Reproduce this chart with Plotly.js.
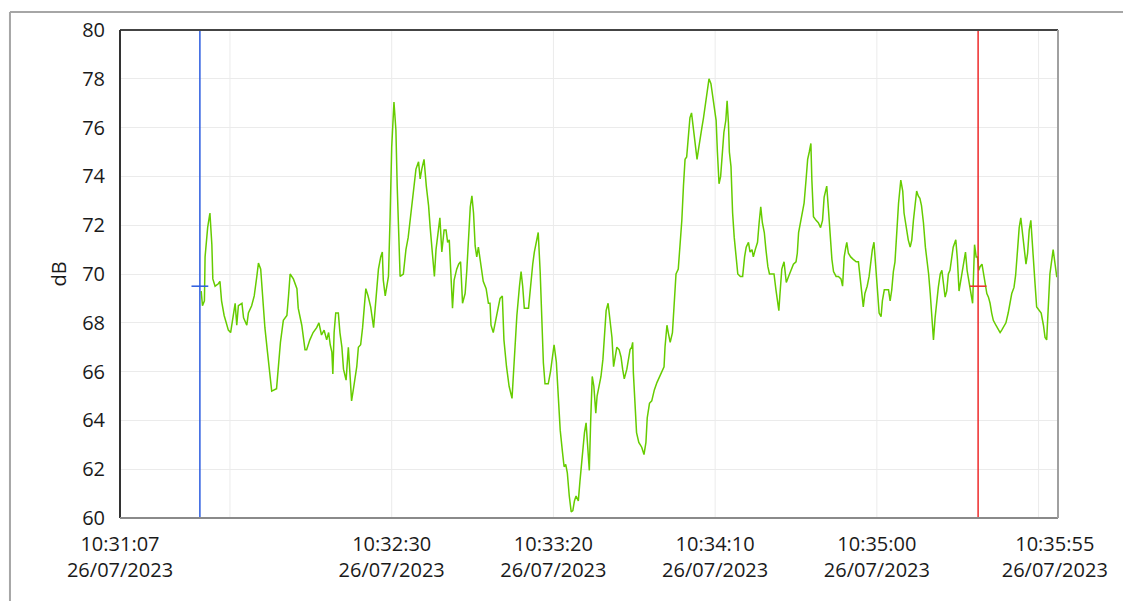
<!DOCTYPE html>
<html>
<head>
<meta charset="utf-8">
<script src="https://cdn.plot.ly/plotly-3.0.1.min.js"></script>
<style>html,body{margin:0;padding:0;background:#fff;}#chart{width:1123px;height:601px;}</style>
</head>
<body>
<div id="chart"></div>
<script>
// seconds after 10:31:06 on 26/07/2023
const seconds = [
25.1,25.5,26.1,26.3,27.1,27.8,28.4,28.7,29.4,30.4,30.9,31.4,32.2,33.5,34.2,35.0,35.6,36.1,36.6,37.7,38.2,39.2,39.7,40.7,41.5,42.3,42.8,43.5,44.1,44.8,45.6,46.4,46.9,48.4,48.9,49.6,50.5,51.6,52.1,52.6,53.6,54.7,55.1,56.2,57.2,57.7,58.7,59.7,60.8,61.5,62.3,63.1,63.9,64.5,65.0,65.5,65.8,66.2,66.7,67.5,
68.0,68.6,69.1,69.9,70.6,71.1,71.6,72.3,73.2,73.7,74.4,75.0,75.5,76.0,76.7,77.5,78.4,78.7,79.2,79.9,80.6,81.1,81.4,82.0,82.5,83.0,83.5,84.0,84.7,85.3,85.7,86.2,86.6,87.6,88.4,89.1,89.6,90.2,90.9,91.5,92.3,92.8,93.3,94.0,94.7,95.4,95.9,96.6,97.2,97.7,98.4,98.9,99.5,100.2,100.8,101.3,101.8,102.3,102.8,103.3,104.1,104.7,105.3,105.9,106.7,107.2,107.7,108.3,108.8,109.3,109.8,110.3,110.8,111.3,111.9,112.3,113.2,113.9,
114.4,114.7,115.4,116.5,117.5,118.2,118.7,119.5,120.3,121.2,121.7,122.2,122.7,123.5,124.0,124.5,125.0,126.3,127.0,127.6,128.1,128.8,129.3,129.9,130.4,130.9,131.4,132.4,133.1,133.8,134.2,134.9,135.6,136.1,136.8,137.3,137.8,138.3,138.9,139.5,140.0,140.5,141.0,141.7,142.2,142.9,143.6,144.1,144.6,145.1,145.5,146.0,146.5,147.1,147.5,148.1,148.7,149.3,149.8,150.3,150.9,151.5,152.1,152.6,153.1,153.6,154.3,154.9,155.4,155.9,156.7,157.2,157.7,158.2,158.5,
158.7,159.2,159.7,160.4,161.3,162.0,162.6,163.0,163.7,164.4,165.2,166.0,166.8,167.5,168.2,168.5,169.1,169.5,170.1,170.8,171.4,171.9,172.6,173.1,173.7,174.2,174.7,175.2,175.7,176.2,176.7,177.2,177.8,178.4,178.9,179.4,179.9,180.4,181.0,181.6,182.1,182.7,183.2,183.8,184.3,184.7,185.2,185.7,186.2,186.7,187.3,187.7,188.1,188.4,188.9,189.4,189.9,190.4,191.0,191.8,192.5,193.1,193.6,194.3,194.8,195.4,195.8,196.4,197.1,197.6,198.1,198.6,199.2,199.7,200.3,200.8,201.5,202.2,202.8,203.3,203.7,
204.0,204.6,205.3,206.0,206.7,207.4,208.2,209.0,209.4,209.8,210.5,211.1,211.5,212.1,212.6,213.1,213.6,213.9,214.4,215.2,215.9,216.6,217.2,217.7,218.5,219.0,219.5,220.1,220.6,221.4,222.1,222.9,223.4,223.9,224.4,224.7,225.2,225.9,226.7,227.6,228.3,228.8,229.3,229.8,230.3,231.0,231.6,232.1,232.6,233.1,233.6,234.2,234.7,235.3,235.7,236.3,237.1,237.6,238.1,238.6,239.1,239.6,240.2,240.7,241.4,242.0,242.4,243.0,243.7,244.3,244.8,245.3,245.8,246.3,246.8,
247.3,247.8,248.4,249.0,249.5,250.0,250.5,251.0,251.5,252.0,252.5,253.0,253.6,254.1,254.6,255.1,255.6,256.1,256.6,257.1,257.6,258.4,258.9,259.4,259.9,260.4,260.9,261.4,261.9,262.6,263.2,263.6,263.9,264.2,264.7,265.1,265.5,265.9,266.5,267.0,267.5,268.0,268.5,269.0,269.5,270.0,270.8,271.6,272.1,272.6,273.3,273.9,274.6,275.2,275.7,276.4,276.9,277.5,278.0,278.5,279.0,279.6,280.1,280.6,281.1,281.6,282.1,282.4,282.9,283.4,284.2,284.8,285.5,286.0,286.5,287.0,287.5,288.1,288.5,289.1,289.6,290.0
];
const levels = [
69.3,68.7,68.9,70.7,71.9,72.5,71.2,69.8,69.5,69.6,69.7,68.9,68.3,67.7,67.6,68.4,68.8,67.9,68.7,68.8,68.2,67.9,68.4,68.7,69.1,69.9,70.45,70.2,69.1,67.8,66.8,65.8,65.2,65.3,66.1,67.2,68.1,68.3,69.1,70.0,69.8,69.4,68.6,67.9,66.9,66.9,67.3,67.6,67.8,68.0,67.5,67.7,67.3,67.6,67.1,66.8,65.9,67.6,68.4,68.4,
67.6,67.0,66.1,65.65,67.0,66.1,64.8,65.4,66.2,67.0,67.1,67.8,68.8,69.4,69.1,68.65,67.8,68.3,69.1,70.2,70.7,70.9,69.75,69.1,69.5,69.9,72.3,75.2,77.05,75.9,73.6,71.3,69.9,70.0,71.0,71.5,72.1,73.0,73.85,74.3,74.6,73.9,74.3,74.7,73.6,72.8,71.9,70.6,69.9,71.0,71.9,72.3,70.9,71.8,71.8,71.3,71.4,69.9,68.6,69.75,70.2,70.4,70.5,68.8,69.2,70.1,71.5,72.75,73.2,72.5,71.15,70.7,71.1,70.6,70.1,69.7,69.4,68.8,
68.8,67.9,67.6,68.4,69.0,69.1,67.3,66.2,65.4,64.9,66.0,67.3,68.3,69.5,70.1,69.5,68.6,68.6,69.75,70.4,70.9,71.4,71.7,70.1,67.8,66.35,65.5,65.5,66.0,66.8,67.1,66.4,65.0,63.6,62.7,62.1,62.2,61.85,60.9,60.25,60.3,60.7,60.9,60.7,61.5,62.7,63.5,63.9,62.7,61.95,63.9,65.8,65.4,64.3,65.0,65.4,65.8,66.5,67.8,68.5,68.8,68.2,67.4,66.2,66.6,67.0,66.9,66.6,66.1,65.7,66.1,66.6,66.9,67.0,67.2,
66.0,64.4,63.5,63.1,62.9,62.6,63.1,64.1,64.7,64.8,65.25,65.55,65.8,66.0,66.2,67.0,67.9,67.6,67.2,67.6,68.8,70.0,70.2,71.0,72.2,73.6,74.7,74.8,75.8,76.4,76.6,76.0,75.2,74.7,75.15,75.5,76.0,76.4,77.0,77.5,78.0,77.8,77.3,76.7,76.3,75.0,73.7,74.0,75.0,75.8,76.3,77.1,76.2,75.0,74.4,72.5,71.5,70.7,70.0,69.9,69.9,70.7,71.1,71.3,70.9,71.0,70.7,71.0,71.3,72.1,72.75,72.1,71.7,71.0,70.3,70.0,70.0,70.0,69.35,68.9,68.5,
69.1,70.2,70.5,69.65,69.9,70.1,70.4,70.5,70.85,71.7,72.2,72.5,72.9,73.85,74.7,75.0,75.35,73.85,72.35,72.2,72.1,71.9,72.2,73.15,73.6,72.7,71.5,70.6,70.1,69.9,69.9,69.8,69.5,70.7,71.1,71.3,70.85,70.7,70.6,70.5,70.5,69.8,69.1,68.65,69.2,69.5,69.9,70.6,71.0,71.3,70.5,69.2,68.4,68.25,68.9,69.35,69.35,69.35,68.9,69.35,70.1,70.5,71.8,72.9,73.85,73.4,72.5,71.9,71.4,71.1,71.4,72.2,72.95,73.4,73.2,
73.1,72.8,72.1,71.1,70.6,70.0,69.2,68.1,67.3,68.2,68.9,69.45,70.0,70.15,69.6,69.05,69.3,70.0,70.15,70.6,71.1,71.4,70.6,69.3,69.7,70.15,70.6,70.9,70.15,69.6,69.05,68.8,70.0,71.2,70.7,70.7,70.15,70.3,70.4,70.0,69.6,69.2,69.05,68.8,68.4,68.1,67.9,67.7,67.6,67.7,67.85,68.0,68.4,68.9,69.2,69.45,69.95,71.0,71.9,72.3,71.7,70.85,70.4,70.85,71.8,72.2,71.1,70.3,69.6,68.65,68.5,68.4,67.9,67.4,67.3,68.4,70.0,70.6,71.0,70.4,69.9,69.9
];
const xRange = ['2023-07-26 10:31:06', '2023-07-26 10:35:56'];
const tickTimes = ['2023-07-26 10:31:06', '2023-07-26 10:32:30', '2023-07-26 10:33:20', '2023-07-26 10:34:10', '2023-07-26 10:35:00', '2023-07-26 10:35:55'];
const tickLabels = ['10:31:07<br>26/07/2023', '10:32:30<br>26/07/2023', '10:33:20<br>26/07/2023', '10:34:10<br>26/07/2023', '10:35:00<br>26/07/2023', '10:35:55<br>26/07/2023'];
const gridTimes = ['2023-07-26 10:31:40', '2023-07-26 10:32:30', '2023-07-26 10:33:20', '2023-07-26 10:34:10', '2023-07-26 10:35:00', '2023-07-26 10:35:50'];
const cursorTimes = ['2023-07-26 10:31:30.7', '2023-07-26 10:35:31.3'];
const cursorLevels = [69.5, 69.5];
const cursorColors = ['#2b5ce0', '#ee2a2a'];

const base = Date.UTC(2023, 6, 26, 10, 31, 6);
const xs = seconds.map(s => new Date(base + Math.round(s * 1000)).toISOString().replace('T', ' ').replace('Z', ''));

const traces = [{
  x: xs, y: levels, type: 'scatter', mode: 'lines',
  line: {color: '#66cc00', width: 1.5}, hoverinfo: 'x+y', showlegend: false
}, {
  x: cursorTimes, y: cursorLevels, type: 'scatter', mode: 'markers',
  marker: {symbol: 'line-ew', size: 12, line: {width: 1.5, color: cursorColors}},
  showlegend: false, hoverinfo: 'skip'
}];

const shapes = [];
gridTimes.forEach(t => shapes.push({type: 'line', xref: 'x', yref: 'paper', x0: t, x1: t, y0: 0, y1: 1, line: {color: '#ebebeb', width: 1}, layer: 'below'}));
cursorTimes.forEach((t, i) => shapes.push({type: 'line', xref: 'x', yref: 'paper', x0: t, x1: t, y0: 0, y1: 1, line: {color: cursorColors[i], width: 1.5}}));
// plot frame
shapes.push({type: 'line', xref: 'paper', yref: 'paper', x0: 0, x1: 1, y0: 1, y1: 1, line: {color: '#444', width: 2}});
shapes.push({type: 'line', xref: 'paper', yref: 'paper', x0: 0, x1: 0, y0: 0, y1: 1, line: {color: '#333', width: 2}});
shapes.push({type: 'line', xref: 'paper', yref: 'paper', x0: 0, x1: 1, y0: 0, y1: 0, line: {color: '#8a8a8a', width: 2}});
shapes.push({type: 'line', xref: 'paper', yref: 'paper', x0: 1, x1: 1, y0: 0, y1: 1, line: {color: '#a0a0a0', width: 2}});
// outer window frame
shapes.push({type: 'line', xref: 'paper', yref: 'paper', x0: -0.1173, x1: 1.08, y0: 1.0369, y1: 1.0369, line: {color: '#a6a6a6', width: 2}});
shapes.push({type: 'line', xref: 'paper', yref: 'paper', x0: -0.1173, x1: -0.1173, y0: -0.2, y1: 1.0369, line: {color: '#a6a6a6', width: 2}});

const font = {family: 'Open Sans, Noto Sans, sans-serif', size: 20, color: '#1a1a1a'};
const layout = {
  width: 1123, height: 601,
  margin: {l: 120, r: 65, t: 30, b: 83},
  paper_bgcolor: '#ffffff', plot_bgcolor: '#ffffff',
  font: font,
  showlegend: false,
  xaxis: {
    type: 'date', range: xRange, tickmode: 'array', tickvals: tickTimes, ticktext: tickLabels,
    showgrid: false, zeroline: false, showline: false, ticks: '', ticklabelstandoff: 12,
    tickfont: font, fixedrange: true
  },
  yaxis: {
    range: [60, 80], dtick: 2, tick0: 60, showgrid: true, gridcolor: '#ebebeb', gridwidth: 1,
    zeroline: false, showline: false, ticks: '', ticklabelstandoff: 14, tickfont: font,
    title: {text: 'dB', font: font, standoff: 10}, fixedrange: true
  },
  shapes: shapes
};
Plotly.newPlot('chart', traces, layout, {displayModeBar: false, staticPlot: true});
</script>
</body>
</html>
